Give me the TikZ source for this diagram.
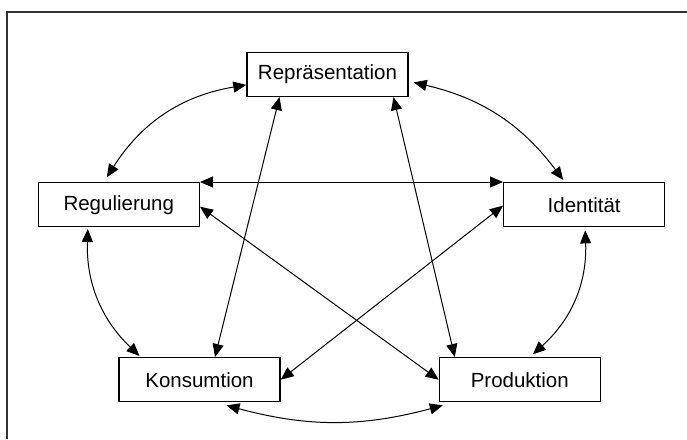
\documentclass[tikz,border=0pt]{standalone}
\usepackage{fontspec}
\setmainfont{Liberation Sans}
\usetikzlibrary{arrows.meta,calc}
\begin{document}
\begin{tikzpicture}[x=1pt,y=-1pt,
  box/.style={draw, line width=1.4pt, minimum width=161pt, minimum height=44pt, inner sep=0pt, font=\fontsize{20.5}{24}\selectfont},
  link/.style={line width=1pt, {Triangle[length=13pt,width=11pt]}-{Triangle[length=13pt,width=11pt]}},
  frame/.style={line width=1.6pt, black!80}
]
\useasboundingbox (0,0) rectangle (687,439);
\draw[frame] (687,11.7) -- (6.7,11.7) -- (6.7,439);

\node[box] (repr)  at (327.5,74.4) {Repräsentation};
\node[box] (regul) at (118.8,204.7) {Regulierung};
\node[box] (ident) at (584.2,204.7) {Identität};
\node[box] (kons)  at (199.5,379.7) {Konsumtion};
\node[box] (prod)  at (519.8,379.7) {Produktion};

% outer ring
\draw[link] ([xshift=-12pt,yshift=4.7pt]regul.north) to[bend left=24] ([yshift=-10.5pt]repr.west);
\draw[link] ([xshift=5pt,yshift=-8pt]repr.east) to[bend left=20] ([xshift=-21pt,yshift=2pt]ident.north);
\draw[link] ([xshift=-31pt,yshift=-1.6pt]regul.south) to[bend right=24] ([xshift=-60pt,yshift=1pt]kons.north);
\draw[link] ([xshift=1pt,yshift=-3pt]ident.south) to[bend left=25] ([xshift=13pt,yshift=2.7pt]prod.north);
\draw[link] ([xshift=27pt,yshift=-3pt]kons.south) to[bend right=15] ([xshift=-77pt,yshift=-3pt]prod.south);

% inner star
\draw[link] (regul.north east) -- (ident.north west);
\draw[link] ([yshift=-2pt]regul.east) -- (prod.west);
\draw[link] ([yshift=-1pt]ident.west) -- (kons.east);
\draw[link] ([xshift=-48pt]repr.south) -- ([xshift=15.5pt]kons.north);
\draw[link] ([xshift=66pt]repr.south) -- ([xshift=-65pt]prod.north);
\end{tikzpicture}
\end{document}
